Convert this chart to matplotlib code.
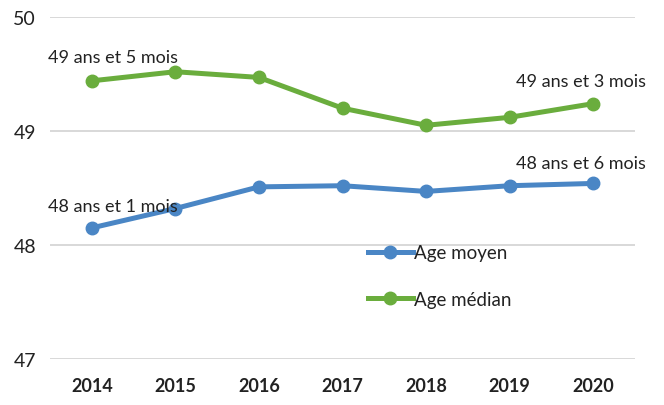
import matplotlib
matplotlib.use("Agg")
import matplotlib.pyplot as plt

years = ["2014", "2015", "2016", "2017", "2018", "2019", "2020"]
age_moyen = [48.15, 48.32, 48.51, 48.52, 48.47, 48.52, 48.54]
age_median = [49.44, 49.52, 49.47, 49.20, 49.05, 49.12, 49.24]
y_ticks = [47, 48, 49, 50]

plt.rcParams['font.family'] = ['Lato', 'DejaVu Sans']

blue = "#4A86C5"
green = "#6AAD3D"
txt = "#222222"

fig = plt.figure(figsize=(6.64, 4.06), dpi=100)
ax = fig.add_axes([50/664, 1-360/406, 585/664, (360-18)/406])
x = list(range(len(years)))
l1, = ax.plot(x, age_moyen, color=blue, lw=3.6, marker='o', ms=9, label="Age moyen", zorder=3)
l2, = ax.plot(x, age_median, color=green, lw=3.6, marker='o', ms=9, label="Age médian", zorder=3)

ax.set_xlim(-0.5, 6.5)
ax.set_ylim(47, 50)
ax.set_yticks(y_ticks)
ax.set_yticklabels([str(t) for t in y_ticks], fontsize=14, color=txt)
ax.set_xticks(x)
ax.set_xticklabels(years, fontsize=13, fontweight='bold', color=txt)
ax.tick_params(length=0)
ax.tick_params(axis='y', pad=10)
ax.tick_params(axis='x', pad=13)
ax.grid(axis='y', color="#D6D6D6", lw=1.3)
ax.set_axisbelow(True)
for s in ax.spines.values():
    s.set_visible(False)

fs = 13
ax.annotate("49 ans et 5 mois", (0, age_median[0]), xytext=(15, 17), textcoords='offset points',
            ha='center', va='center', fontsize=fs, color=txt)
ax.annotate("49 ans et 3 mois", (6, age_median[6]), xytext=(-9, 16), textcoords='offset points',
            ha='center', va='center', fontsize=fs, color=txt)
ax.annotate("48 ans et 6 mois", (6, age_moyen[6]), xytext=(-9, 15), textcoords='offset points',
            ha='center', va='center', fontsize=fs, color=txt)
ax.annotate("48 ans et 1 mois", (0, age_moyen[0]), xytext=(15, 16), textcoords='offset points',
            ha='center', va='center', fontsize=fs, color=txt)

ax.legend(handles=[l1, l2], loc='upper left', bbox_to_anchor=((360-50)/585, (360-238)/342),
          frameon=False, fontsize=13.5, handlelength=2.4, handletextpad=0.1, labelspacing=1.55,
          borderaxespad=0, labelcolor=txt)

fig.savefig("out.png", dpi=100)
